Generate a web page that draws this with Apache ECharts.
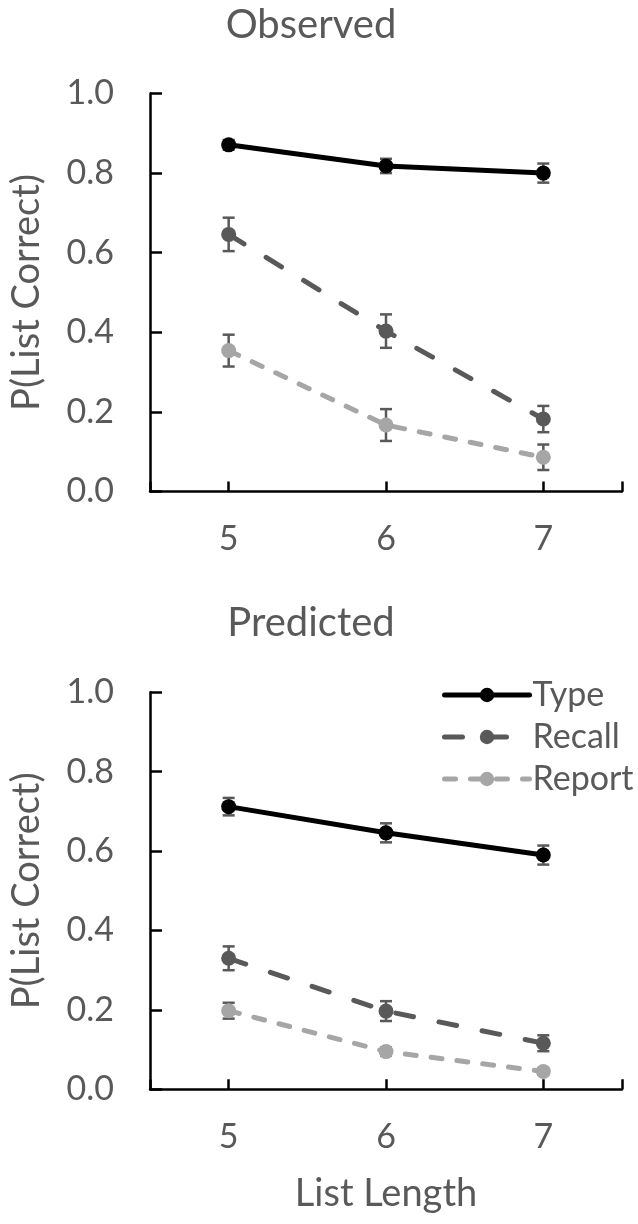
<!DOCTYPE html>
<html>
<head>
<meta charset="utf-8">
<style>
  html, body { margin: 0; padding: 0; background: #fff; }
  #chart { width: 638px; height: 1224px; }
</style>
<script src="https://cdn.jsdelivr.net/npm/echarts@6/dist/echarts.min.js"></script>
</head>
<body>
<div id="chart"></div>
<script>
// List lengths on the x axis
const listLengths = [5, 6, 7];
const xTickValues = [4.5, 5, 6, 7, 7.5];

// Observed proportions of lists fully correct, with error-bar half widths
const obsType = [0.871, 0.818, 0.800];
const obsTypeErr = [0.012, 0.018, 0.024];
const obsRecall = [0.646, 0.403, 0.182];
const obsRecallErr = [0.042, 0.042, 0.033];
const obsReport = [0.354, 0.167, 0.086];
const obsReportErr = [0.040, 0.040, 0.032];

// Model predictions
const predType = [0.712, 0.646, 0.590];
const predTypeErr = [0.022, 0.024, 0.024];
const predRecall = [0.330, 0.197, 0.116];
const predRecallErr = [0.030, 0.025, 0.020];
const predReport = [0.198, 0.095, 0.045];
const predReportErr = [0.020, 0.010, 0.008];

const FONT = 'Lato';
const TEXT = '#595959';

const styles = {
  Type:   { color: '#000000', type: 'solid' },
  Recall: { color: '#595959', type: [18, 26] },
  Report: { color: '#A6A6A6', type: [11, 15] }
};

function lineSeries(name, values, idx) {
  const s = styles[name];
  return {
    name: name,
    type: 'line',
    xAxisIndex: idx,
    yAxisIndex: idx,
    data: listLengths.map((x, i) => [x, values[i]]),
    symbol: 'circle',
    symbolSize: 15,
    itemStyle: { color: s.color },
    lineStyle: { color: s.color, width: 5, type: s.type, cap: 'round' },
    z: 3,
    silent: true
  };
}

function errorSeries(values, errs, idx) {
  return {
    type: 'custom',
    xAxisIndex: idx,
    yAxisIndex: idx,
    z: 2,
    silent: true,
    data: listLengths.map((x, i) => [x, values[i] - errs[i], values[i] + errs[i]]),
    renderItem: function (params, api) {
      const x = api.value(0);
      const lo = api.coord([x, api.value(1)]);
      const hi = api.coord([x, api.value(2)]);
      const half = 6;
      const st = { stroke: '#595959', lineWidth: 2.5 };
      return {
        type: 'group',
        children: [
          { type: 'line', shape: { x1: hi[0], y1: hi[1], x2: lo[0], y2: lo[1] }, style: st },
          { type: 'line', shape: { x1: hi[0] - half, y1: hi[1], x2: hi[0] + half, y2: hi[1] }, style: st },
          { type: 'line', shape: { x1: lo[0] - half, y1: lo[1], x2: lo[0] + half, y2: lo[1] }, style: st }
        ]
      };
    }
  };
}

function xAxis(idx, withName) {
  const ax = {
    type: 'value',
    gridIndex: idx,
    min: 4.5,
    max: 7.5,
    axisLine: { show: true, lineStyle: { color: '#000', width: 2.5 } },
    axisTick: { show: true, inside: true, length: 10, customValues: xTickValues,
                lineStyle: { color: '#000', width: 2.5 } },
    axisLabel: { customValues: listLengths, margin: 31, color: TEXT,
                 fontFamily: FONT, fontSize: 34 },
    splitLine: { show: false }
  };
  if (withName) {
    ax.name = 'List Length';
    ax.nameLocation = 'middle';
    ax.nameGap = 85;
    ax.nameTextStyle = { color: TEXT, fontFamily: FONT, fontSize: 38 };
  }
  return ax;
}

function yAxis(idx) {
  return {
    type: 'value',
    gridIndex: idx,
    min: 0,
    max: 1,
    interval: 0.2,
    name: 'P(List Correct)',
    nameLocation: 'middle',
    nameGap: 104,
    nameTextStyle: { color: TEXT, fontFamily: FONT, fontSize: 38 },
    axisLine: { show: true, lineStyle: { color: '#000', width: 2.5 } },
    axisTick: { show: true, inside: true, length: 12, lineStyle: { color: '#000', width: 2.5 } },
    axisLabel: { margin: 36, color: TEXT, fontFamily: FONT, fontSize: 34,
                 formatter: v => v.toFixed(1) },
    splitLine: { show: false }
  };
}

const chart = echarts.init(document.getElementById('chart'), null, { renderer: 'canvas' });

chart.setOption({
  backgroundColor: '#ffffff',
  animation: false,
  title: [
    { text: 'Observed', left: 306, top: 0, textAlign: 'center',
      textStyle: { color: TEXT, fontFamily: FONT, fontSize: 40, fontWeight: 'normal' } },
    { text: 'Predicted', left: 306, top: 598, textAlign: 'center',
      textStyle: { color: TEXT, fontFamily: FONT, fontSize: 40, fontWeight: 'normal' } }
  ],
  legend: {
    data: ['Type', 'Recall', 'Report'],
    orient: 'vertical',
    left: 437,
    top: 673,
    itemWidth: 85,
    itemHeight: 18,
    itemGap: 8,
    selectedMode: false,
    lineStyle: { width: 5 },
    textStyle: { color: TEXT, fontFamily: FONT, fontSize: 34, padding: [0, 0, 0, -2] }
  },
  grid: [
    { left: 147, top: 93.5, width: 475, height: 398 },
    { left: 147, top: 692.3, width: 475, height: 397 }
  ],
  xAxis: [xAxis(0, false), xAxis(1, true)],
  yAxis: [yAxis(0), yAxis(1)],
  series: [
    errorSeries(obsType, obsTypeErr, 0),
    errorSeries(obsRecall, obsRecallErr, 0),
    errorSeries(obsReport, obsReportErr, 0),
    lineSeries('Type', obsType, 0),
    lineSeries('Recall', obsRecall, 0),
    lineSeries('Report', obsReport, 0),
    errorSeries(predType, predTypeErr, 1),
    errorSeries(predRecall, predRecallErr, 1),
    errorSeries(predReport, predReportErr, 1),
    lineSeries('Type', predType, 1),
    lineSeries('Recall', predRecall, 1),
    lineSeries('Report', predReport, 1)
  ]
});
</script>
</body>
</html>
